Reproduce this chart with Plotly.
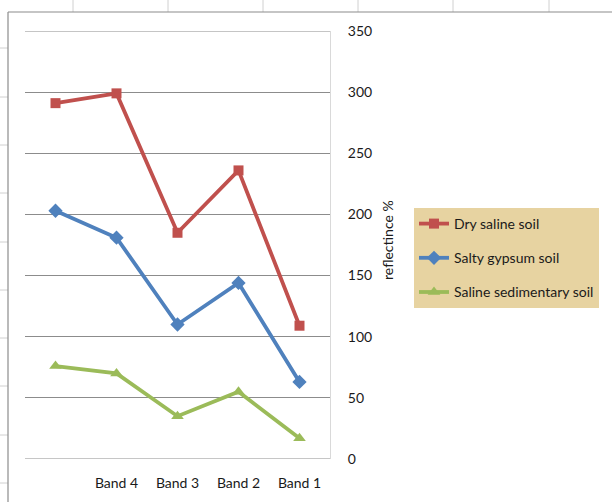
import plotly.graph_objects as go

# Spectral bands along the x axis (first band has no printed label)
bands = [" ", "Band 4", "Band 3", "Band 2", "Band 1"]

# Reflectance (%) per soil type
dry_saline = [291, 299, 185, 236, 109]
salty_gypsum = [203, 181, 110, 144, 63]
saline_sedimentary = [76, 70, 35, 55, 17]

series_names = ["Dry saline soil", "Salty gypsum soil", "Saline sedimentary soil"]
y_ticks = [0, 50, 100, 150, 200, 250, 300, 350]

W, H = 612, 502
L, R, T, B = 25, 330, 31, 459  # plot area in pixels


def px_x(x):
    return (x - L) / (R - L)


def px_y(y):
    return (B - y) / (B - T)


FONT = "Lato"
FS = 14
TXT = "#1a1a1a"
GRID = "#8C8C8C"

fig = go.Figure()

styles = [
    (dry_saline, "#C0504D", "square", 10),
    (salty_gypsum, "#4F81BD", "diamond", 11),
    (saline_sedimentary, "#9BBB59", "triangle-up", 11),
]
for (vals, color, sym, size), name in zip(styles, series_names):
    fig.add_trace(go.Scatter(
        x=bands, y=vals, name=name, mode="lines+markers",
        line=dict(color=color, width=3.8),
        marker=dict(symbol=sym, size=size, color=color),
        legendgroup=name,
    ))

shapes = []
sheet_col = "#D0D0D0"
# spreadsheet column lines above the chart object
for x in [73, 168, 263, 358, 453, 549]:
    shapes.append(dict(type="line", xref="paper", yref="paper",
                       x0=px_x(x), x1=px_x(x), y0=px_y(0), y1=px_y(12),
                       line=dict(color=sheet_col, width=1)))
# spreadsheet row lines left of the chart object
for y in [48, 97, 145, 193, 242, 290, 338, 386, 435, 483]:
    shapes.append(dict(type="line", xref="paper", yref="paper",
                       x0=px_x(0), x1=px_x(8), y0=px_y(y), y1=px_y(y),
                       line=dict(color=sheet_col, width=1)))
# chart object border
shapes.append(dict(type="line", xref="paper", yref="paper",
                   x0=px_x(8), x1=px_x(W + 5), y0=px_y(12), y1=px_y(12),
                   line=dict(color="#8C8C8C", width=1.2)))
shapes.append(dict(type="line", xref="paper", yref="paper",
                   x0=px_x(8), x1=px_x(8), y0=px_y(12), y1=px_y(H + 5),
                   line=dict(color="#8C8C8C", width=1.2)))
# gridlines at the ends of the value range
for v in (y_ticks[0], y_ticks[-1]):
    shapes.append(dict(type="line", xref="paper", yref="y",
                       x0=0, x1=1, y0=v, y1=v, layer="below",
                       line=dict(color=GRID, width=1)))

fig.update_layout(
    width=W, height=H,
    margin=dict(l=L, r=W - R, t=T, b=H - B),
    paper_bgcolor="white", plot_bgcolor="white",
    font=dict(family=FONT, size=FS, color=TXT),
    shapes=shapes,
    showlegend=True,
    legend=dict(
        x=px_x(414), y=px_y(208), xanchor="left", yanchor="top",
        xref="paper", yref="paper",
        bgcolor="#E7D3A1", borderwidth=0,
        font=dict(family=FONT, size=FS, color=TXT),
        tracegroupgap=13, itemwidth=30,
    ),
    annotations=[dict(
        text="reflectince %", textangle=-90, showarrow=False,
        xref="paper", yref="paper", x=px_x(387), y=px_y(240),
        xanchor="center", yanchor="middle",
        font=dict(family=FONT, size=FS, color=TXT),
    )],
)

fig.update_xaxes(
    type="category", categoryorder="array", categoryarray=bands,
    range=[-0.5, len(bands) - 0.5],
    showgrid=False, showline=False, zeroline=False,
    ticks="", ticklabelstandoff=14,
    tickfont=dict(family=FONT, size=FS, color=TXT),
)
fig.update_yaxes(
    side="right", range=[0, 350], tickvals=y_ticks,
    showgrid=True, gridcolor=GRID, gridwidth=1,
    zeroline=False, showline=True, linecolor="#D9D9D9", linewidth=1,
    ticks="", ticklabelstandoff=14,
    tickfont=dict(family=FONT, size=FS, color=TXT),
)

fig.write_html("out.html")
